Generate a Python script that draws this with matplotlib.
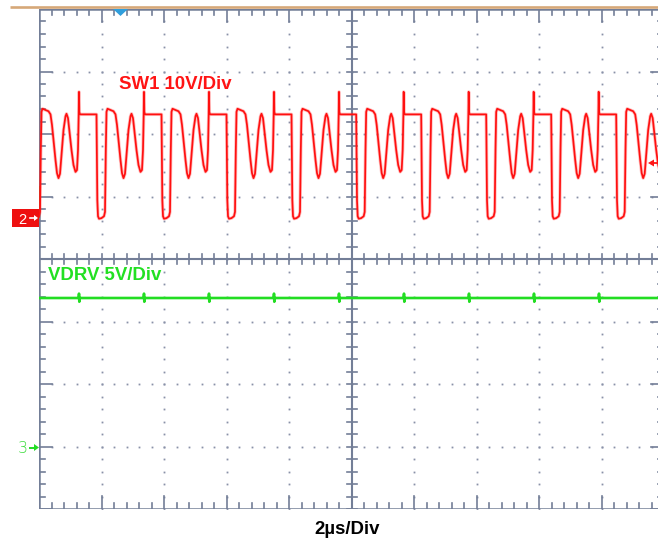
import numpy as np
import matplotlib
matplotlib.use("Agg")
import matplotlib.pyplot as plt
from matplotlib.patches import Rectangle, Polygon

# ---------------- scope settings ----------------
time_per_div_us = 2.0
sw1_volts_per_div = 10.0
vdrv_volts_per_div = 5.0
ch2_ground_div = 4.624      # channel-2 ground marker, divisions above bottom
ch3_ground_div = 0.976      # channel-3 ground marker
n_xdiv, n_ydiv = 10, 8

# ---------------- SW1 : one switching cycle (µs after falling edge, V) -------
sw1_cycle_t = [0.000, 0.026, 0.048, 0.080, 0.160, 0.240, 0.272, 0.298, 0.320,
               0.352, 0.448, 0.544, 0.608, 0.656, 0.704, 0.768, 0.816, 0.864,
               0.912, 0.960, 1.024, 1.088, 1.120, 1.168, 1.216, 1.280, 1.344,
               1.408, 1.456, 1.488, 1.510, 1.520, 1.530, 1.552, 2.064]
sw1_cycle_v = [16.9, 3.2, 0.6, 0.2, 0.3, 0.6, 1.3, 11.2, 17.3,
               17.8, 17.6, 17.4, 16.9, 15.2, 12.8, 9.6, 7.5, 6.7,
               7.4, 10.4, 14.4, 16.6, 17.0, 16.3, 14.1, 11.2, 8.8,
               7.7, 8.0, 11.2, 16.8, 20.5, 17.3, 16.9, 16.9]
# falling-edge time of each cycle, µs from the left edge of the screen
sw1_cycle_starts = [-0.24, 1.84, 3.92, 6.00, 8.08, 10.15, 12.23, 14.31, 16.39, 18.47]

# ---------------- VDRV ------------------------------------------------------
vdrv_level = 12.0
vdrv_spike_times = [1.28, 3.36, 5.44, 7.52, 9.60, 11.68, 13.76, 15.84, 17.92]
vdrv_spike_up = 0.35
vdrv_spike_dn = -0.30

# ---------------- labels ----------------------------------------------------
label_sw1 = "SW1 10V/Div"
label_vdrv = "VDRV 5V/Div"
label_time = "2µs/Div"

W, H = 658, 541
fig = plt.figure(figsize=(W / 100, H / 100), dpi=100)
fig.patch.set_facecolor("white")

# main screen axes : x 39..664 px, y 9..509 px
ax = fig.add_axes([39 / W, (H - 509) / H, 625 / W, 500 / H])
ax.set_xlim(0, n_xdiv)
ax.set_ylim(0, n_ydiv)
ax.axis("off")

gcol = "#737e97"
dcol = "#8991a8"
px = 1 / 62.5  # one pixel in divisions

# dotted grid
minor = np.arange(0, n_xdiv + 1e-9, 0.2)
minor_y = np.arange(0, n_ydiv + 1e-9, 0.2)
for gx in [1, 2, 3, 4, 6, 7, 8, 9]:
    ax.plot(np.full_like(minor_y, gx), minor_y, ls="none", marker="s",
            ms=1.3, color=dcol, mew=0)
for gy in [1, 2, 3, 5, 6, 7]:
    ax.plot(minor, np.full_like(minor, gy), ls="none", marker="s",
            ms=1.3, color=dcol, mew=0)

# centre cross with ticks
ax.plot([5, 5], [0, n_ydiv], color=gcol, lw=1.5, solid_capstyle="butt")
ax.plot([0, n_xdiv], [4, 4], color=gcol, lw=1.5, solid_capstyle="butt")
for yy in minor_y:
    ax.plot([5 - 5 * px, 5 + 5 * px], [yy, yy], color=gcol, lw=1.2)
for xx in minor:
    ax.plot([xx, xx], [4 - 5 * px, 4 + 5 * px], color=gcol, lw=1.2)

# border with inward ticks
ax.plot([0, 0], [0, n_ydiv], color=gcol, lw=1.8, solid_capstyle="butt")
ax.plot([0, n_xdiv], [0, 0], color=gcol, lw=1.8, solid_capstyle="butt")
ax.plot([0, n_xdiv], [n_ydiv, n_ydiv], color=gcol, lw=1.8, solid_capstyle="butt")
ax.plot([n_xdiv, n_xdiv], [0, n_ydiv], color=gcol, lw=1.8, solid_capstyle="butt")
for yy in minor_y:
    L = 13 * px if abs(yy - round(yy)) < 1e-6 else 6 * px
    ax.plot([0, L], [yy, yy], color=gcol, lw=1.2)
    ax.plot([n_xdiv - L, n_xdiv], [yy, yy], color=gcol, lw=1.2)
for xx in minor:
    L = 13 * px if abs(xx - round(xx)) < 1e-6 else 6 * px
    ax.plot([xx, xx], [0, L], color=gcol, lw=1.2)
    ax.plot([xx, xx], [n_ydiv - L, n_ydiv], color=gcol, lw=1.2)

# brownish marker segment on the left border
ax.plot([0, 0], [(509 - 217) * px, (509 - 187) * px], color="#8a6a3a", lw=1.5)

# ---- SW1 trace
ct = np.array(sw1_cycle_t)
cv = np.array(sw1_cycle_v)
t_sw = np.concatenate([s + ct for s in sw1_cycle_starts])
v_sw = np.concatenate([cv for _ in sw1_cycle_starts])
ax.plot(t_sw / time_per_div_us, v_sw / sw1_volts_per_div + ch2_ground_div,
        color="#ff3030", lw=2.4, alpha=0.3, zorder=5)
ax.plot(t_sw / time_per_div_us, v_sw / sw1_volts_per_div + ch2_ground_div,
        color="#ff1010", lw=1.25, zorder=6)

# ---- VDRV trace
t_v = [0.0]
v_v = [vdrv_level]
for s in vdrv_spike_times:
    t_v += [s - 0.01, s, s + 0.01, s + 0.02]
    v_v += [vdrv_level, vdrv_level + vdrv_spike_up, vdrv_level + vdrv_spike_dn, vdrv_level]
t_v += [n_xdiv * time_per_div_us]
v_v += [vdrv_level]
t_v = np.array(t_v)
v_v = np.array(v_v)
ax.plot(t_v / time_per_div_us, v_v / vdrv_volts_per_div + ch3_ground_div,
        color="#22dd22", lw=1.9, zorder=6)

# ---------------- overlay in pixel coordinates ------------------------------
ov = fig.add_axes([0, 0, 1, 1])
ov.set_xlim(0, W)
ov.set_ylim(H, 0)
ov.axis("off")
ov.patch.set_alpha(0)

ov.plot([10, W], [7, 7], color="#d6a878", lw=1.9, solid_capstyle="butt")
ov.add_patch(Polygon([[113, 9], [128, 9], [120.5, 16]], closed=True,
                     color="#2f9edc", lw=0, zorder=5))

# channel 2 marker
ov.add_patch(Rectangle((12, 209), 27, 18, color="#ee1010", lw=0))
ov.text(22, 224, "2", color="white", fontsize=10.5, family="Liberation Sans",
        ha="center", va="baseline")
ov.plot([30, 35], [218, 218], color="white", lw=1.2)
ov.add_patch(Polygon([[34, 215], [38, 218], [34, 221]], closed=True,
                     color="white", lw=0))

# channel 3 marker
ov.text(23, 453, "3", color="#3fdc3f", fontsize=11.5, family="DejaVu Sans",
        weight="light", ha="center", va="baseline")
ov.plot([30, 35], [447.5, 447.5], color="#22dd22", lw=1.4)
ov.add_patch(Polygon([[34, 444], [39, 447.5], [34, 451]], closed=True,
                     color="#22dd22", lw=0))

# trigger level arrow (right)
ov.plot([652, W], [163, 163], color="#ff1414", lw=1.3)
ov.add_patch(Polygon([[648, 163], [654, 159.5], [654, 166.5]], closed=True,
                     color="#ff1414", lw=0))

ov.text(119, 89.3, label_sw1, color="#ff1414", fontsize=13.4, weight="bold",
        family="Liberation Sans", ha="left", va="baseline")
ov.text(48, 280, label_vdrv, color="#22e022", fontsize=13.4, weight="bold",
        family="Liberation Sans", ha="left", va="baseline")
ov.text(347.5, 534, label_time, color="black", fontsize=13.4, weight="bold",
        family="Liberation Sans", ha="center", va="baseline")

fig.savefig("out.png", dpi=100)
